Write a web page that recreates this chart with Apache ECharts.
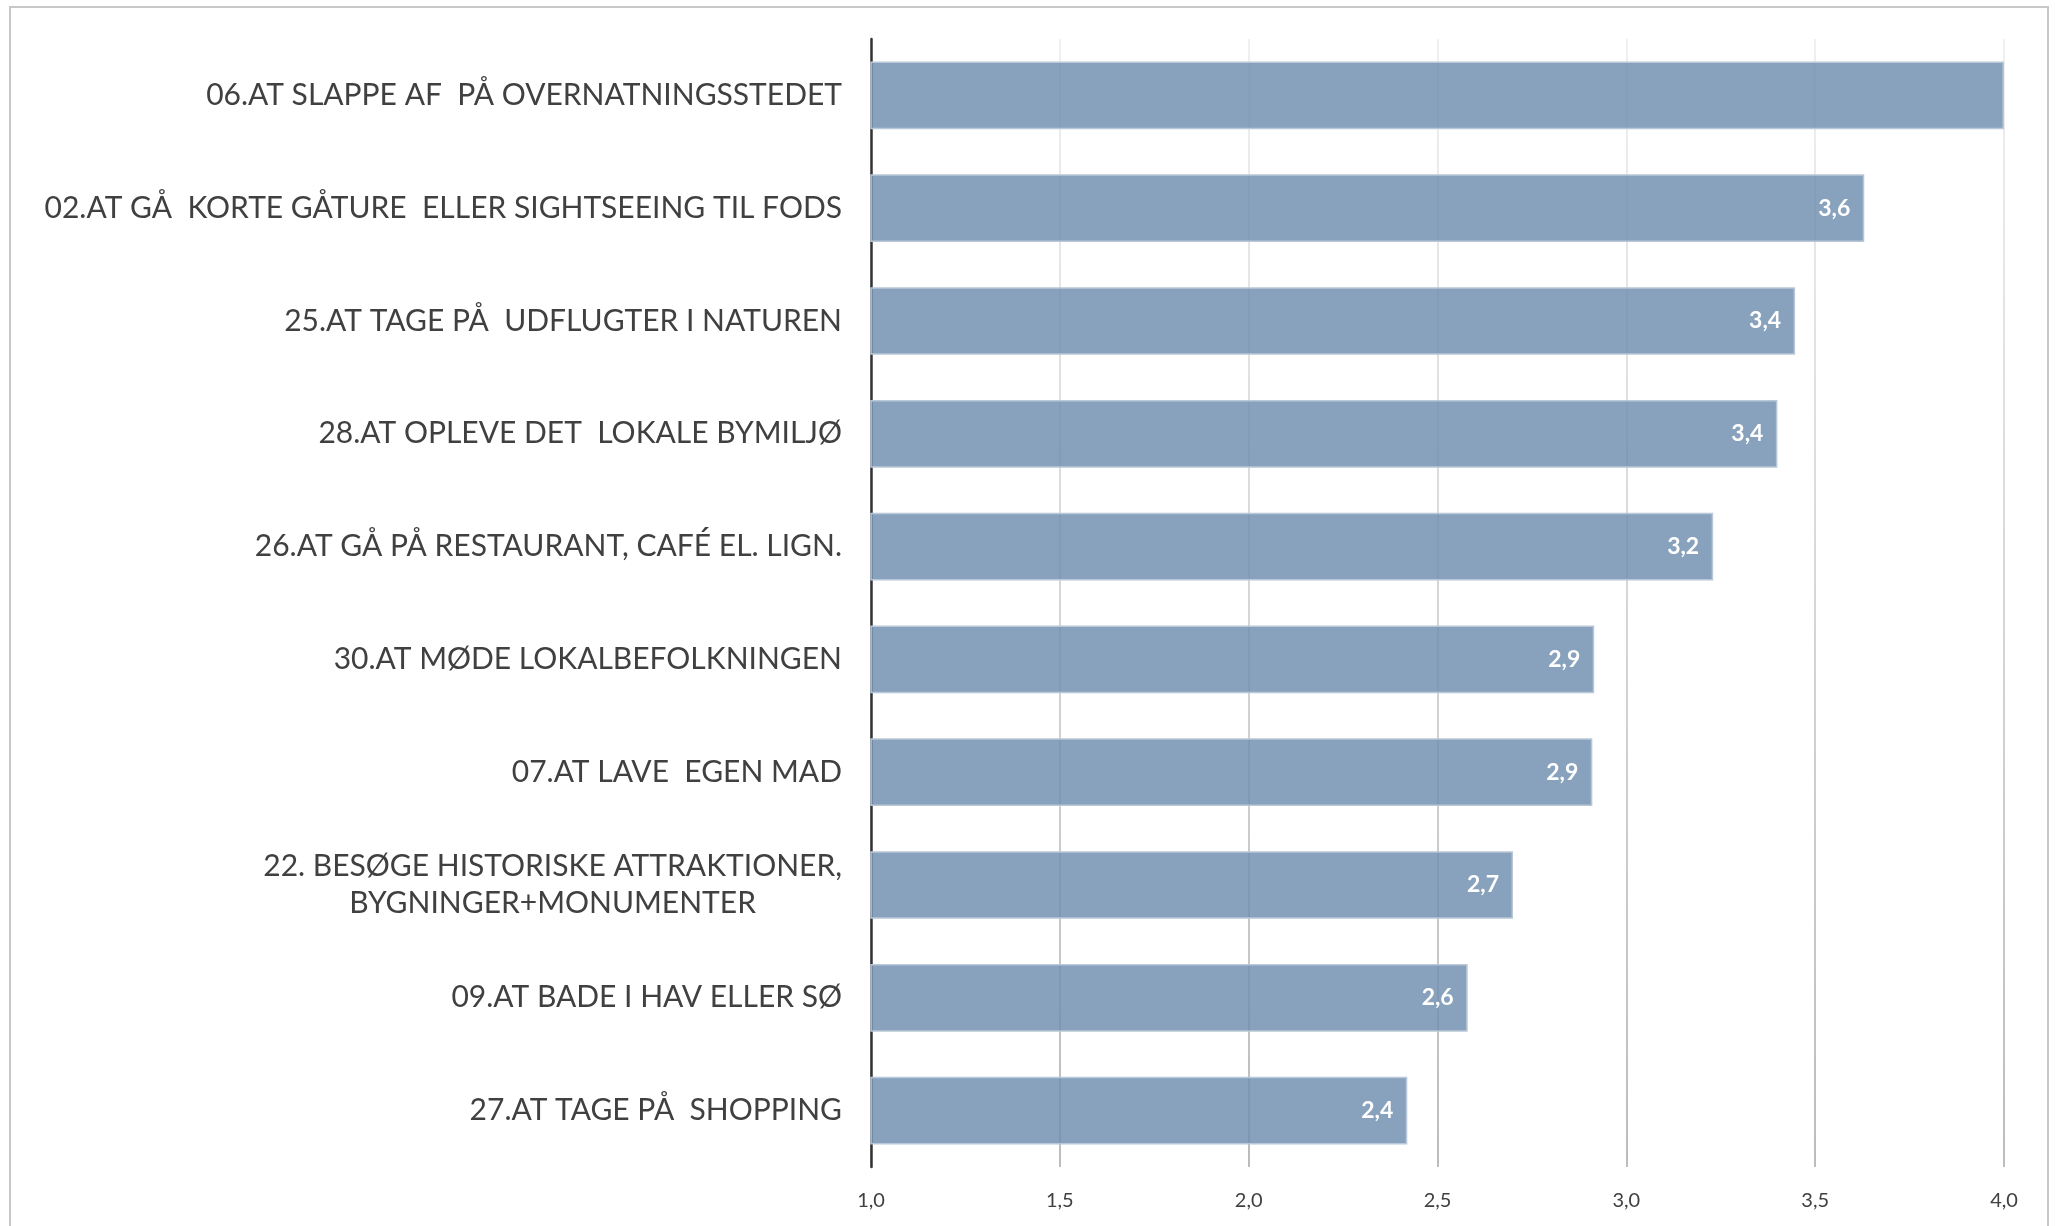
<!DOCTYPE html>
<html>
<head>
<meta charset="utf-8">
<script src="https://cdn.jsdelivr.net/npm/echarts@6/dist/echarts.min.js"></script>
<style>
html,body{margin:0;padding:0;background:#fff;}
#chart{width:2060px;height:1226px;}
</style>
</head>
<body>
<div id="chart"></div>
<script>
const categories = [
  "06.AT SLAPPE AF  PÅ OVERNATNINGSSTEDET",
  "02.AT GÅ  KORTE GÅTURE  ELLER SIGHTSEEING TIL FODS",
  "25.AT TAGE PÅ  UDFLUGTER I NATUREN",
  "28.AT OPLEVE DET  LOKALE BYMILJØ",
  "26.AT GÅ PÅ RESTAURANT, CAFÉ EL. LIGN.",
  "30.AT MØDE LOKALBEFOLKNINGEN",
  "07.AT LAVE  EGEN MAD",
  "22. BESØGE HISTORISKE ATTRAKTIONER,\nBYGNINGER+MONUMENTER",
  "09.AT BADE I HAV ELLER SØ",
  "27.AT TAGE PÅ  SHOPPING"
];
const values = [4.00, 3.63, 3.447, 3.40, 3.23, 2.915, 2.91, 2.70, 2.58, 2.42];
const hiddenLabels = [0];
const tickLabels = ["1,0", "1,5", "2,0", "2,5", "3,0", "3,5", "4,0"];

const chart = echarts.init(document.getElementById('chart'));
const FONT = 'Lato';
chart.setOption({
  animation: false,
  graphic: [{
    type: 'rect',
    shape: {x: 10, y: 7, width: 2038, height: 1240},
    style: {fill: 'none', stroke: '#c8c8c8', lineWidth: 2},
    silent: true
  }],
  grid: {left: 871, right: 56, top: 39, bottom: 59, containLabel: false},
  xAxis: {
    type: 'value', min: 1, max: 4, interval: 0.5,
    axisLine: {show: false}, axisTick: {show: false},
    splitLine: {show: true, lineStyle: {
      width: 1.5,
      color: {type: 'linear', x: 0, y: 39, x2: 0, y2: 1167, global: true,
        colorStops: [{offset: 0, color: '#ebebeb'}, {offset: 1, color: '#a6a6a6'}]}
    }},
    axisLabel: {
      margin: 24, color: '#404040', fontFamily: FONT, fontSize: 20,
      formatter: function (v) { return tickLabels[Math.round((v - 1) / 0.5)]; }
    }
  },
  yAxis: {
    type: 'category', inverse: true, data: categories,
    axisLine: {show: true, lineStyle: {color: '#333333', width: 2.5}},
    axisTick: {show: false},
    axisLabel: {
      margin: 29, color: '#404040', fontFamily: FONT, fontSize: 30,
      formatter: function (v) {
        return v.split('\n').map(function (l) { return '{c|' + l + '}'; }).join('\n');
      },
      rich: {c: {align: 'center', color: '#404040', fontFamily: FONT, fontSize: 30, lineHeight: 37}}
    }
  },
  series: [{
    type: 'bar',
    barCategoryGap: '40%',
    data: values.map(function (v, i) {
      return hiddenLabels.indexOf(i) >= 0 ? {value: v, label: {show: false}} : v;
    }),
    itemStyle: {color: 'rgba(115,146,177,0.85)', borderColor: '#b9c8d8', borderWidth: 1.5},
    label: {
      show: true, position: 'insideRight', distance: 14,
      color: '#ffffff', fontFamily: FONT, fontWeight: 'bold', fontSize: 23,
      formatter: function (p) { return p.value.toFixed(1).replace('.', ','); }
    },
    z: 3
  }]
});
</script>
</body>
</html>
